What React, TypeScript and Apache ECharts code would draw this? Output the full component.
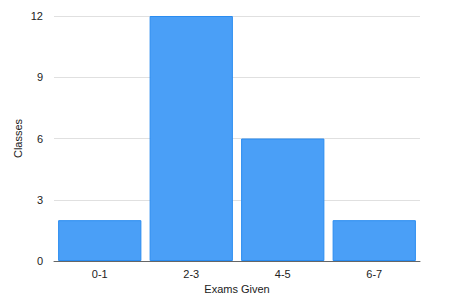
import React, { useEffect, useRef } from "react";
import * as echarts from "echarts";

const categories = ["0-1", "2-3", "4-5", "6-7"];
const classes = [2, 12, 6, 2];
const yTicks = { min: 0, max: 12, interval: 3 };

export default function App() {
  const ref = useRef<HTMLDivElement>(null);
  useEffect(() => {
    if (!ref.current) return;
    const chart = echarts.init(ref.current, null, { renderer: "svg" });
    chart.setOption({
      animation: false,
      textStyle: { fontFamily: "Liberation Sans, Arial, sans-serif" },
      grid: { left: 54, right: 30, top: 16, bottom: 41 },
      xAxis: {
        type: "category",
        data: categories,
        name: "Exams Given",
        nameLocation: "middle",
        nameGap: 22,
        nameMoveOverlap: false,
        nameTextStyle: { fontSize: 11, color: "#222" },
        axisLine: { lineStyle: { color: "#666", width: 1 } },
        axisTick: { show: false },
        axisLabel: { fontSize: 11, color: "#222", margin: 7 },
      },
      yAxis: {
        type: "value",
        min: yTicks.min,
        max: yTicks.max,
        interval: yTicks.interval,
        name: "Classes",
        nameLocation: "middle",
        nameGap: 31,
        nameMoveOverlap: false,
        nameTextStyle: { fontSize: 11, color: "#222" },
        axisLine: { show: false },
        axisTick: { show: false },
        axisLabel: { fontSize: 11, color: "#222", margin: 11 },
        splitLine: { lineStyle: { color: "#e0e0e0" } },
      },
      series: [
        {
          type: "bar",
          data: classes,
          barCategoryGap: "9%",
          itemStyle: { color: "#4a9ff7", borderColor: "#2a8cf0", borderWidth: 1 },
        },
      ],
    });
    return () => chart.dispose();
  }, []);
  return <div ref={ref} style={{ width: 450, height: 302, position: "absolute", left: 0, top: 0 }} />;
}
